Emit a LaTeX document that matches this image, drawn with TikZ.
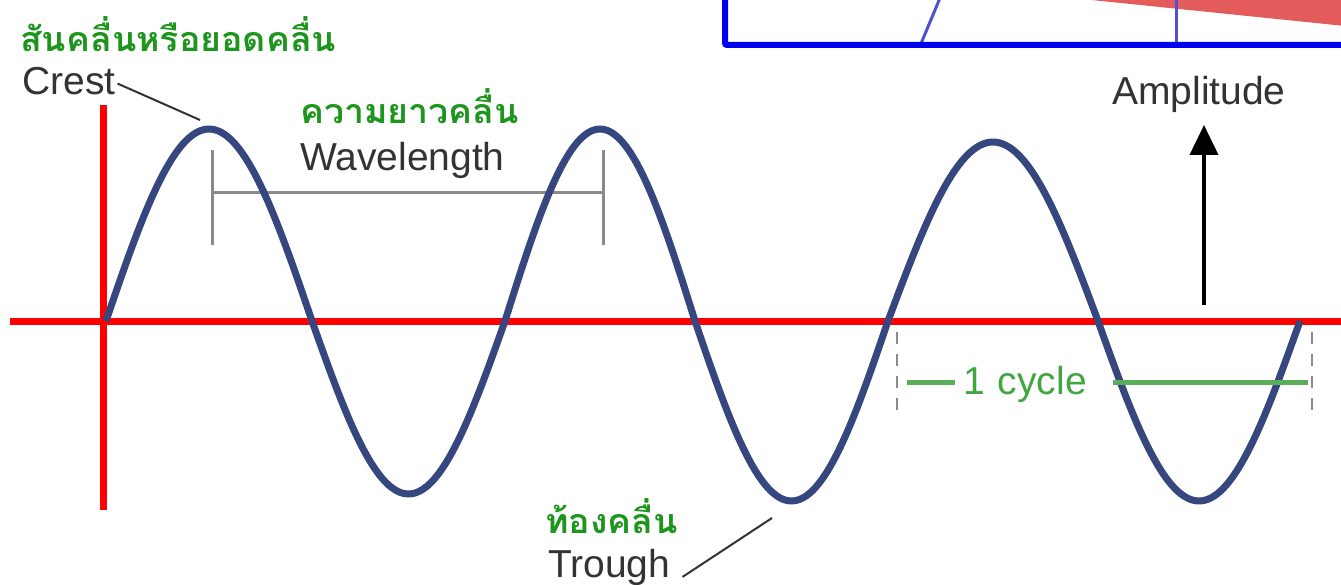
\documentclass[tikz,border=0pt]{standalone}
\usepackage{fontspec}
\setmainfont{Liberation Sans}
\newfontfamily\thaifont[Script=Thai,FakeStretch=1.05]{Loma}
\usetikzlibrary{arrows.meta}
\definecolor{wavec}{HTML}{36467E}
\definecolor{thaig}{HTML}{1E961E}
\definecolor{cycg}{HTML}{5AAE5A}
\definecolor{boxblue}{HTML}{0000F0}
\definecolor{thinblue}{HTML}{5050D0}
\definecolor{salmon}{HTML}{E35B5B}
\definecolor{markgray}{HTML}{8A8A8A}
\tikzset{
  thailbl/.style={inner sep=0pt, anchor=base west, text depth=0pt, text=thaig, font=\thaifont\bfseries\fontsize{34}{36}\selectfont},
  englbl/.style={inner sep=0pt, anchor=base west, text=black!80, font=\fontsize{39}{42}\selectfont},
  leader/.style={draw=black!80, line width=2pt},
  axisred/.style={draw=red, line width=7pt},
  markline/.style={draw=markgray, line width=3pt},
  dashmark/.style={draw=markgray, line width=2.5pt, dash pattern=on 12pt off 10pt},
}
\begin{document}
\begin{tikzpicture}[x=1pt,y=-1pt]
\clip (0,0) rectangle (1341,585);
\fill[white] (0,0) rectangle (1341,585);
% top-right box fragment
\fill[salmon] (1072,-2) -- (1345,-2) -- (1345,26) -- cycle;
\draw[thinblue, line width=3pt] (920,46) -- (940,-2);
\draw[thinblue, line width=3pt] (1176,46) -- (1176,-2);
\draw[boxblue, line width=6pt, rounded corners=2pt] (725,-20) |- (1360,45);
% axes
\draw[axisred] (10,321) -- (1341,321);
\draw[axisred] (103.5,105) -- (103.5,510);
% wavelength marker
\coordinate (c1) at (212,150);
\coordinate (c2) at (603,150);
\draw[markline] (c1) -- (212,245);
\draw[markline] (c2) -- (603,245);
\draw[markline] (212,193) -- (603,193);
% wave (half-waves between measured zero crossings)
\draw[wavec, line width=7pt, line join=round]
  plot[domain=106:312, samples=60, smooth] (\x, {321 - 192*sin((\x-106)/206*180)})
  -- plot[domain=312:505, samples=60, smooth] (\x, {321 + 173*sin((\x-312)/193*180)})
  -- plot[domain=505:695, samples=60, smooth] (\x, {321 - 192*sin((\x-505)/190*180)})
  -- plot[domain=695:888, samples=60, smooth] (\x, {321 + 180*sin((\x-695)/193*180)})
  -- plot[domain=888:1098, samples=60, smooth] (\x, {321 - 179*sin((\x-888)/210*180)})
  -- plot[domain=1098:1300, samples=60, smooth] (\x, {321 + 180*sin((\x-1098)/202*180)});
% crest
\node[thailbl] (crestth) at (20,52) {สันคลื่นหรือยอดคลื่น};
\node[englbl] (crest) at (22,95) {Crest};
\coordinate (crestpt) at (200,120);
\draw[leader] (crest.east) ++(2pt,-2pt) coordinate (cl) (cl) -- (crestpt);
% wavelength
\node[thailbl] (wlth) at (300,124) {ความยาวคลื่น};
\node[englbl] (wl) at (300,171) {Wavelength};
% trough
\node[thailbl] (trth) at (545,533) {ท้องคลื่น};
\node[englbl] (tr) at (548,577) {Trough};
\coordinate (trpt) at (772,518);
\draw[leader] (tr.east) ++(12pt,-10pt) coordinate (tl) (tl) -- (trpt);
% amplitude
\node[englbl] (amp) at (1112,105) {Amplitude};
\coordinate (ampbase) at (1204,305);
\coordinate (amptop) at (1204,125);
\draw[line width=4pt, -{Triangle[length=30pt,width=28pt]}] (ampbase) -- (amptop);
% 1 cycle
\draw[dashmark] (897,332) -- (897,412);
\draw[dashmark] (1312,332) -- (1312,412);
\node[inner sep=0pt, anchor=base west, text=thaig!85!white, font=\fontsize{39}{42}\selectfont] (cyc) at (963,394) {1\,\,cycle};
\coordinate (cycL) at (907,382);
\coordinate (cycR) at (1308,382);
\draw[cycg, line width=5pt] (cycL) -- (955,382);
\draw[cycg, line width=5pt] (1113,382) -- (cycR);
\end{tikzpicture}
\end{document}
